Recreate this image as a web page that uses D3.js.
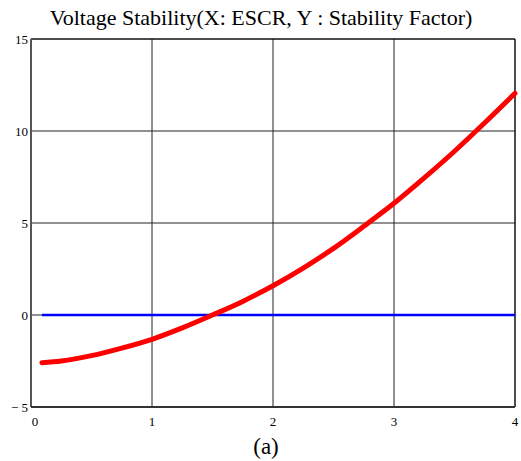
<!DOCTYPE html>
<html>
<head>
<meta charset="utf-8">
<script src="https://cdn.jsdelivr.net/npm/d3@7"></script>
<style>
  body { margin: 0; background: #fff; }
  text { font-family: "Liberation Serif", "Times New Roman", serif; fill: #000; }
</style>
</head>
<body>
<svg id="chart"></svg>
<script>
// values
const escr = [0.09, 0.25, 0.5, 0.75, 1.0, 1.25, 1.5, 1.75, 2.0, 2.25, 2.5, 2.75, 3.0, 3.25, 3.5, 3.75, 4.0];
const stability = [-2.59, -2.5, -2.21, -1.8, -1.32, -0.7, 0.0, 0.74, 1.59, 2.55, 3.62, 4.82, 6.07, 7.45, 8.9, 10.45, 12.05];
const zeroLine = [[0.09, 0], [4.0, 0]];
const xTicks = [0, 1, 2, 3, 4];
const yTicks = [-5, 0, 5, 10, 15];
const title = "Voltage Stability(X: ESCR, Y : Stability Factor)";
const caption = "(a)";

const width = 521, height = 461;
const margin = {top: 39, right: 6, bottom: 54, left: 31};

const svg = d3.select('#chart')
    .attr('width', width)
    .attr('height', height);

const x = d3.scaleLinear().domain([0, 4]).range([margin.left, width - margin.right]);
const y = d3.scaleLinear().domain([-5, 15]).range([height - margin.bottom, margin.top]);

// grid
svg.append('g')
    .selectAll('line')
    .data(xTicks.slice(1, -1))
  .join('line')
    .attr('x1', d => x(d)).attr('x2', d => x(d))
    .attr('y1', y(15)).attr('y2', y(-5))
    .attr('stroke', '#222').attr('stroke-width', 1);

svg.append('g')
    .selectAll('line')
    .data(yTicks.slice(1, -1))
  .join('line')
    .attr('x1', x(0)).attr('x2', x(4))
    .attr('y1', d => y(d)).attr('y2', d => y(d))
    .attr('stroke', '#222').attr('stroke-width', 1);

// frame: top/right black, left/bottom grey axes
svg.append('line').attr('x1', x(0)).attr('x2', x(4)).attr('y1', y(15)).attr('y2', y(15))
    .attr('stroke', '#111').attr('stroke-width', 1.5);
svg.append('line').attr('x1', x(4)).attr('x2', x(4)).attr('y1', y(15)).attr('y2', y(-5))
    .attr('stroke', '#111').attr('stroke-width', 1.5);
svg.append('line').attr('x1', x(0)).attr('x2', x(0)).attr('y1', y(15)).attr('y2', y(-5))
    .attr('stroke', '#555').attr('stroke-width', 2);
svg.append('line').attr('x1', x(0)).attr('x2', x(4)).attr('y1', y(-5)).attr('y2', y(-5))
    .attr('stroke', '#333').attr('stroke-width', 2);

// tick labels
svg.append('g')
    .selectAll('text')
    .data(yTicks)
  .join('text')
    .attr('x', margin.left - 3)
    .attr('y', d => y(d) + 5)
    .attr('text-anchor', 'end')
    .style('font-size', '13px')
    .text(d => d < 0 ? '\u2212 ' + Math.abs(d) : d);

svg.append('g')
    .selectAll('text')
    .data(xTicks)
  .join('text')
    .attr('x', d => x(d) + (d === 0 ? 4 : 0))
    .attr('y', y(-5) + 19)
    .attr('text-anchor', 'middle')
    .style('font-size', '13px')
    .text(d => d);

// series
const line = d3.line()
    .x(d => x(d[0]))
    .y(d => y(d[1]))
    .curve(d3.curveMonotoneX);

svg.append('path')
    .datum(zeroLine)
    .attr('fill', 'none')
    .attr('stroke', '#0000ff')
    .attr('stroke-width', 2.5)
    .attr('d', line);

svg.append('path')
    .datum(escr.map((v, i) => [v, stability[i]]))
    .attr('fill', 'none')
    .attr('stroke', '#ff0000')
    .attr('stroke-width', 5)
    .attr('stroke-linecap', 'round')
    .attr('d', line);

// title and caption
svg.append('text')
    .attr('x', 261)
    .attr('y', 25)
    .attr('text-anchor', 'middle')
    .style('font-size', '22px')
    .text(title);

svg.append('text')
    .attr('x', 266)
    .attr('y', 454)
    .attr('text-anchor', 'middle')
    .style('font-size', '23px')
    .text(caption);
</script>
</body>
</html>
